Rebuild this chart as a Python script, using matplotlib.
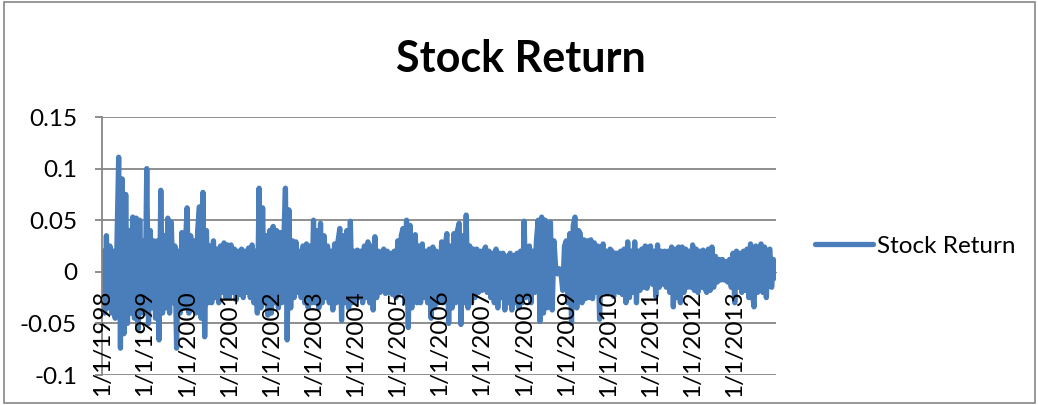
import numpy as np
import matplotlib
matplotlib.use("Agg")
import matplotlib.pyplot as plt
from matplotlib.patches import Rectangle

plt.rcParams['font.family'] = ['Lato', 'DejaVu Sans']

# daily returns, thinned to 24 readings per year
years = list(range(1998, 2014))
r1998 = [0.02, -0.04, 0.035, -0.035, 0.025, -0.04, 0.02, -0.045, 0.025, 0.111, -0.074, 0.09,
         -0.06, 0.075, -0.05, 0.04, -0.04, 0.053, -0.045, 0.052, -0.056, 0.05, -0.04, 0.03]
r1999 = [-0.04, 0.10, -0.05, 0.04, -0.035, 0.03, -0.045, 0.03, -0.066, 0.079, -0.04, 0.035,
         -0.035, 0.052, -0.04, 0.048, -0.03, 0.025, -0.074, 0.02, -0.04, 0.038, -0.035, 0.025]
r2000 = [0.062, -0.04, 0.035, -0.035, 0.03, -0.04, 0.04, 0.063, -0.045, 0.077, -0.063, 0.04,
         -0.03, 0.025, -0.03, 0.03, -0.025, 0.022, -0.03, 0.025, -0.02, 0.028, -0.025, 0.026]
r2001 = [-0.025, 0.026, -0.02, 0.022, -0.027, 0.02, -0.022, 0.022, -0.025, 0.02, -0.02, 0.023,
         -0.025, 0.026, -0.03, 0.02, -0.04, 0.081, -0.035, 0.062, -0.03, 0.035, -0.042, 0.04]
r2002 = [-0.04, 0.044, -0.03, 0.04, -0.035, 0.038, -0.03, 0.025, 0.081, -0.066, 0.06, -0.035,
         0.03, -0.025, 0.029, -0.02, 0.02, -0.025, 0.025, -0.03, 0.027, -0.035, 0.025, -0.03]
r2003 = [0.05, -0.03, 0.04, -0.035, 0.047, -0.03, 0.035, -0.025, 0.025, -0.03, 0.02, -0.037,
         0.027, -0.03, 0.03, 0.042, -0.047, 0.035, -0.03, 0.04, -0.035, 0.049, -0.03, 0.02]
r2004 = [-0.03, 0.021, -0.025, 0.02, -0.03, 0.025, -0.025, 0.029, -0.03, 0.025, -0.037, 0.034,
         -0.025, 0.02, -0.02, 0.018, 0.022, -0.021, 0.02, -0.02, 0.018, -0.022, 0.02, -0.025]
r2005 = [0.03, -0.02, 0.035, 0.042, -0.03, 0.05, -0.054, 0.045, -0.035, 0.03, 0.036, -0.03,
         0.025, -0.03, 0.027, -0.025, 0.02, -0.03, 0.022, -0.045, 0.024, -0.035, 0.02, -0.03]
r2006 = [-0.025, 0.029, -0.03, 0.025, 0.037, -0.05, 0.025, -0.035, 0.037, -0.03, 0.04, 0.047,
         -0.051, 0.035, -0.03, 0.055, -0.035, 0.025, -0.03, 0.022, -0.025, 0.022, -0.02, 0.02]
r2007 = [-0.018, 0.02, 0.024, -0.02, 0.02, -0.025, 0.018, -0.03, 0.022, -0.035, 0.018, -0.025,
         0.018, -0.037, 0.015, -0.03, 0.018, -0.037, 0.016, -0.03, 0.018, -0.035, 0.02, -0.03]
r2008 = [0.049, -0.025, 0.02, 0.025, -0.03, 0.02, -0.02, 0.03, 0.05, -0.048, 0.053, -0.04,
         0.05, -0.035, 0.04, 0.048, -0.037, 0.03, 0.003, -0.002, 0.003, -0.001, -0.018, 0.025]
r2009 = [0.03, -0.03, 0.037, -0.05, 0.045, 0.053, -0.035, 0.04, 0.037, -0.03, 0.031, -0.026,
         0.03, -0.025, 0.031, -0.026, 0.028, -0.02, 0.025, -0.046, 0.02, 0.027, -0.02, 0.02]
r2010 = [-0.02, 0.022, 0.02, -0.024, 0.018, 0.018, -0.02, 0.02, -0.022, 0.022, -0.03, 0.029,
         -0.025, 0.02, -0.02, 0.029, -0.03, 0.02, -0.018, 0.022, -0.015, 0.025, -0.016, 0.024]
r2011 = [0.025, -0.012, 0.02, -0.024, 0.026, -0.015, 0.02, -0.012, 0.02, -0.015, 0.02, -0.02,
         0.024, -0.034, 0.022, -0.025, 0.024, -0.03, 0.024, -0.02, 0.022, -0.015, 0.02, -0.015]
r2012 = [0.026, -0.018, 0.022, -0.02, 0.02, -0.015, 0.021, -0.016, -0.02, 0.022, -0.018, 0.024,
         -0.015, 0.015, -0.01, 0.012, -0.008, 0.012, -0.008, 0.01, -0.01, 0.012, -0.015, 0.018]
r2013 = [-0.03, 0.02, -0.015, 0.018, -0.02, 0.02, -0.018, 0.022, -0.025, 0.027, -0.02, -0.034,
         0.025, -0.02, 0.022, 0.027, -0.02, 0.024, -0.025, 0.02, 0.022, -0.015, 0.012, -0.006]

yearly = [r1998, r1999, r2000, r2001, r2002, r2003, r2004, r2005,
          r2006, r2007, r2008, r2009, r2010, r2011, r2012, r2013]
returns = np.concatenate(yearly)
ticks = np.cumsum([0] + [len(r) for r in yearly[:-1]])
tick_labels = ['1/1/%d' % y for y in years]

W, H = 1038, 405
fig = plt.figure(figsize=(W / 100, H / 100), dpi=100)
ax = fig.add_axes([102 / W, 1 - 375 / H, (776 - 102) / W, (375 - 117) / H])

blue = '#4A7EBB'
grey = '#868686'

ax.plot(np.arange(len(returns)), returns, color=blue, lw=3.8,
        solid_joinstyle='round', solid_capstyle='round', zorder=2, label='Stock Return')

ax.set_ylim(-0.1, 0.15)
ax.set_xlim(-0.5, len(returns) - 0.5)
yt = [-0.1, -0.05, 0, 0.05, 0.1, 0.15]
ax.set_yticks(yt)
ax.set_yticklabels(['-0.1', '-0.05', '0', '0.05', '0.1', '0.15'])
for v in yt:
    ax.axhline(v, color=grey, lw=1.3, zorder=1)

ax.set_xticks(ticks)
ax.set_xticklabels(tick_labels)
ax.set_axisbelow(False)

for s in ['top', 'right']:
    ax.spines[s].set_visible(False)
ax.spines['left'].set_color(grey)
ax.spines['left'].set_linewidth(1.3)
ax.spines['bottom'].set_position(('data', 0))
ax.spines['bottom'].set_color(grey)
ax.spines['bottom'].set_zorder(1)

ax.tick_params(axis='y', length=5, width=1.3, color=grey, pad=13, labelsize=17.5)
ax.tick_params(axis='x', length=0, pad=13, labelsize=17.5, labelrotation=90)
for lab in ax.get_xticklabels():
    lab.set_va('top')
    lab.set_ha('center')

fig.text(521 / W, 1 - 72 / H, 'Stock Return', ha='center', va='baseline',
         fontsize=31, fontweight='bold')

fig.legend(loc='center left', bbox_to_anchor=(815 / W, 1 - 246 / H), frameon=False,
           borderaxespad=0, borderpad=0, handlelength=2.4, handletextpad=0.15,
           fontsize=17.5)

fig.patches.append(Rectangle((4 / W, 2 / H), (1035 - 4) / W, (403 - 2) / H,
                             transform=fig.transFigure, fill=False,
                             edgecolor=grey, lw=1.2))

fig.savefig('out.png', dpi=100)
